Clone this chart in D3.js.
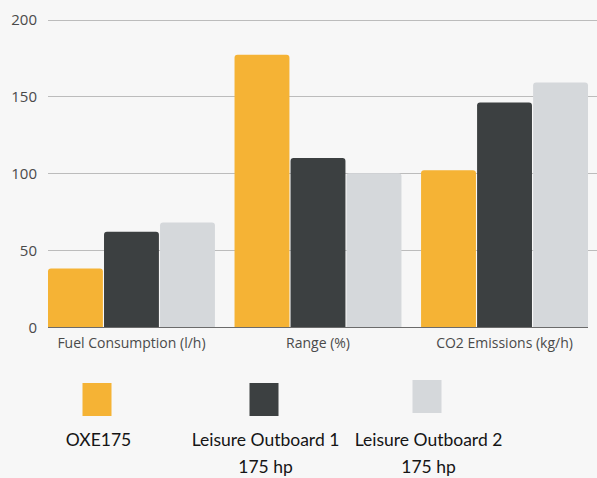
<!DOCTYPE html>
<html>
<head>
<meta charset="utf-8">
<script src="https://cdn.jsdelivr.net/npm/d3@7"></script>
<style>
  html, body { margin: 0; padding: 0; background: #f7f7f7; }
  svg { display: block; font-family: 'Open Sans', sans-serif; }
</style>
</head>
<body>
<svg id="chart" width="597" height="478"></svg>
<script>
const categories = ['Fuel Consumption (l/h)', 'Range (%)', 'CO2 Emissions (kg/h)']
const seriesNames = ['OXE175', 'Leisure Outboard 1|175 hp', 'Leisure Outboard 2|175 hp']
const oxe175 = [38, 177, 102]
const leisure1 = [62, 110, 146]
const leisure2 = [68, 100, 159]
const yTicks = [0, 50, 100, 150, 200]
const colors = ['#f5b335', '#3c4041', '#d5d8db']

const series = [oxe175, leisure1, leisure2]
const svg = d3.select('#chart')

const x0 = d3.scaleBand().domain(categories).range([48, 588])
  .paddingInner(0.105).paddingOuter(0)
const x1 = d3.scaleBand().domain(d3.range(series.length))
  .range([0, x0.bandwidth()]).paddingInner(0.02)
const y = d3.scaleLinear().domain([0, 200]).range([327, 19.5])

// grid
svg.append('g').selectAll('line')
  .data(yTicks.filter(d => d > 0))
  .enter().append('line')
  .attr('x1', 48).attr('x2', 597)
  .attr('y1', d => Math.round(y(d)) + 0.5).attr('y2', d => Math.round(y(d)) + 0.5)
  .attr('stroke', '#bcbcbc').attr('stroke-width', 1)

// y tick labels
svg.append('g').selectAll('text')
  .data(yTicks)
  .enter().append('text')
  .attr('x', 37).attr('y', d => y(d) + 5.5)
  .attr('text-anchor', 'end')
  .style('font-size', '15px')
  .style('fill', '#4a4a4a')
  .text(d => d)

// rounded-top bar path
function barPath (x, top, w, bottom, r) {
  r = Math.min(r, (bottom - top))
  return `M${x},${bottom}V${top + r}Q${x},${top} ${x + r},${top}H${x + w - r}Q${x + w},${top} ${x + w},${top + r}V${bottom}Z`
}

const groups = svg.append('g').selectAll('g')
  .data(categories)
  .enter().append('g')
  .attr('transform', d => `translate(${x0(d)},0)`)

groups.selectAll('path')
  .data((d, i) => series.map((s, k) => ({ k, v: s[i] })))
  .enter().append('path')
  .attr('d', d => barPath(x1(d.k), y(d.v), x1.bandwidth(), y(0), 3))
  .attr('fill', d => colors[d.k])

// baseline
svg.append('line')
  .attr('x1', 48).attr('x2', 588)
  .attr('y1', y(0) + 0.5).attr('y2', y(0) + 0.5)
  .attr('stroke', '#6b6b6b').attr('stroke-width', 1)

// x labels
svg.append('g').selectAll('text')
  .data(categories)
  .enter().append('text')
  .attr('x', d => x0(d) + x0.bandwidth() / 2)
  .attr('y', 348)
  .attr('text-anchor', 'middle')
  .style('font-size', '14px')
  .style('fill', '#4a4a4a')
  .text(d => d)

// legend
const legendX = [97, 264, 427]
const legendTop = [383, 383, 380]
const legend = svg.append('g').selectAll('g')
  .data(seriesNames)
  .enter().append('g')

legend.append('rect')
  .attr('x', (d, i) => legendX[i] - 14.5)
  .attr('y', (d, i) => legendTop[i])
  .attr('width', 29).attr('height', 33)
  .attr('fill', (d, i) => colors[i])

legend.append('text')
  .attr('text-anchor', 'middle')
  .style('font-family', 'Lato, sans-serif')
  .style('font-size', '17.5px')
  .style('fill', '#151515')
  .selectAll('tspan')
  .data((d, i) => d.split('|').map((t, j) => ({ t, j, i })))
  .enter().append('tspan')
  .attr('x', d => legendX[d.i] + 1.5)
  .attr('y', d => 446 + d.j * 27)
  .text(d => d.t)
</script>
</body>
</html>
